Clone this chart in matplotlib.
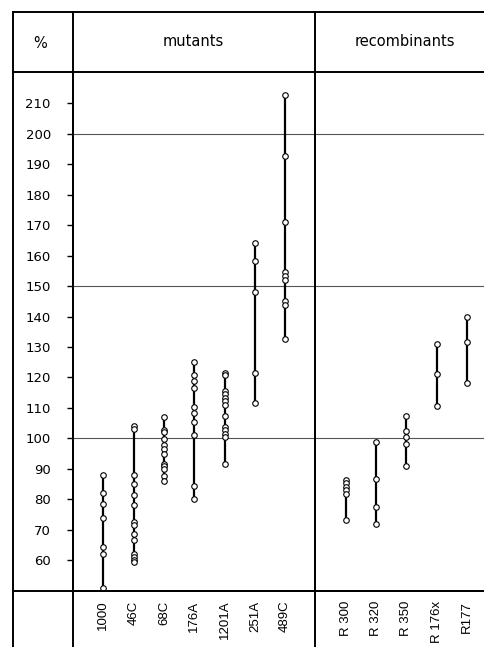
import matplotlib
matplotlib.use("Agg")
import matplotlib.pyplot as plt
from matplotlib.lines import Line2D

# strains and measured values (% of wild type)
mutants = ["1000", "46C", "68C", "176A", "1201A", "251A", "489C"]
mutant_values = [
    [88, 82, 78.5, 74, 64.5, 62, 51],
    [104, 103, 88, 85, 81.5, 78, 72.5, 71.5, 68.5, 66.5, 62, 61, 60, 59.3],
    [107, 102.7, 102, 99.8, 97.8, 96.5, 95, 91.5, 91, 90, 87.7, 86],
    [125, 120.7, 118.8, 116.5, 110.2, 108.5, 105.3, 101, 84.4, 80],
    [121.5, 120.7, 115.6, 114.6, 113.4, 112.2, 111, 107.5, 103.6, 102.6, 101.4, 100.6, 91.7],
    [164.3, 158.3, 148, 121.6, 111.5],
    [212.8, 192.6, 171, 154.5, 153.2, 152, 145, 143.7, 132.5],
]
recombinants = ["R 300", "R 320", "R 350", "R 176x", "R177"]
recombinant_values = [
    [86.3, 85.2, 84.1, 83, 81.9, 73.2],
    [98.9, 86.6, 77.6, 71.8],
    [107.2, 102.3, 100.5, 98.1, 91],
    [131, 121.2, 110.7],
    [139.8, 131.5, 118.2],
]
y_ticks = list(range(60, 211, 10))
ref_lines = [100, 150, 200]

W, H = 484, 647


def fx(px):
    return px / W


def fy(py):
    return 1 - py / H


fig = plt.figure(figsize=(W / 100, H / 100), dpi=100)
plt.rcParams['font.family'] = 'DejaVu Sans'

# data area: x 73..484 px, y 72..591 px
ax = fig.add_axes([fx(73), fy(591), fx(484) - fx(73), fy(72) - fy(591)])
ax.set_xlim(0, 13.56)
ax.set_ylim(49.9, 220.3)

n_mut = len(mutants)
mut_pos = list(range(1, n_mut + 1))
rec_pos = [n_mut + 2 + i for i in range(len(recombinants))]
divider = n_mut + 1

for r in ref_lines:
    ax.axhline(r, color='#555555', lw=0.8, zorder=1)

for x, vals in zip(mut_pos + rec_pos, mutant_values + recombinant_values):
    ax.plot([x, x], [min(vals), max(vals)], color='black', lw=1.6, zorder=2)
    ax.plot([x] * len(vals), vals, 'o', ms=4.0, mfc='white', mec='black',
            mew=0.8, zorder=3, clip_on=False)

ax.axvline(divider, color='black', lw=1.2)

for s in ['right', 'top']:
    ax.spines[s].set_visible(False)
ax.spines['left'].set_linewidth(1.3)
ax.spines['bottom'].set_linewidth(1.4)

ax.set_yticks(y_ticks)
ax.set_yticklabels([str(t) for t in y_ticks], fontsize=9.5)
ax.tick_params(axis='y', direction='out', length=4, width=1, pad=12)

ax.set_xticks(mut_pos + rec_pos)
ax.set_xticklabels(mutants + recombinants, rotation=90, fontsize=9.5,
                   family='Liberation Sans')
ax.tick_params(axis='x', length=0, pad=7)

# table frame lines
lw = 1.4
frame = [
    ((13, 484), (12, 12)),
    ((13, 484), (72, 72)),
    ((13, 484), (591, 591)),
    ((13, 13), (12, 647)),
    ((73, 73), (12, 647)),
]
div_px = 73 + divider * (484 - 73) / 13.56
frame.append(((div_px, div_px), (12, 647)))
for xs, ys in frame:
    fig.add_artist(Line2D([fx(xs[0]), fx(xs[1])], [fy(ys[0]), fy(ys[1])],
                          transform=fig.transFigure, color='black', lw=lw))

fig.text(fx(40), fy(43), "%", ha='center', va='center', fontsize=10.5)
fig.text(fx(193), fy(42), "mutants", ha='center', va='center', fontsize=10.5)
fig.text(fx(405), fy(42), "recombinants", ha='center', va='center', fontsize=10.5)

fig.savefig("out.png", dpi=100)
